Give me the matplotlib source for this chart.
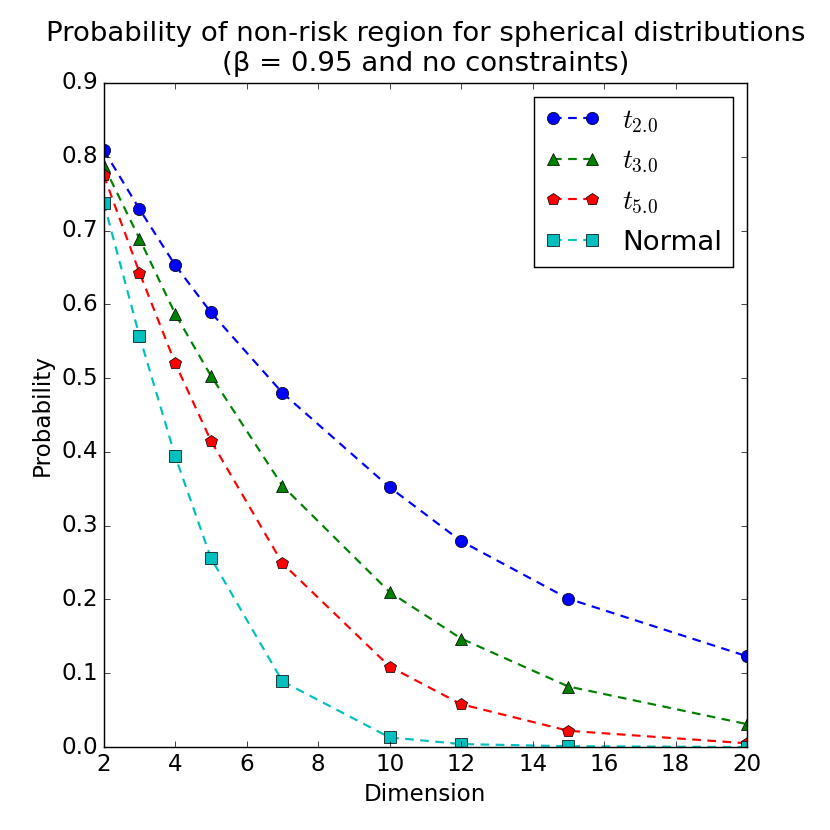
import numpy as np
import matplotlib
matplotlib.use("Agg")
import matplotlib.pyplot as plt

plt.style.use("classic")
plt.rcParams["font.size"] = 16

# Data
dims = [2, 3, 4, 5, 7, 10, 12, 15, 20]
prob_t2 = [0.809, 0.729, 0.653, 0.589, 0.480, 0.352, 0.279, 0.201, 0.123]
prob_t3 = [0.788, 0.689, 0.587, 0.503, 0.354, 0.210, 0.147, 0.082, 0.031]
prob_t5 = [0.775, 0.643, 0.520, 0.415, 0.249, 0.109, 0.058, 0.022, 0.005]
prob_normal = [0.738, 0.557, 0.394, 0.256, 0.089, 0.013, 0.004, 0.001, 0.000]

series = [
    (prob_t2, "bo--", r"$t_{2.0}$"),
    (prob_t3, "g^--", r"$t_{3.0}$"),
    (prob_t5, "rp--", r"$t_{5.0}$"),
    (prob_normal, "cs--", "Normal"),
]

fig = plt.figure(figsize=(8, 8), dpi=103.75, facecolor="white")
ax = fig.add_subplot(111)

for values, fmt, label in series:
    ax.plot(dims, values, fmt, label=label, markersize=8.5, linewidth=1.5,
            dashes=(6, 4.5))

ax.set_xlim(2, 20)
ax.set_ylim(0, 0.9)
ax.set_xlabel("Dimension")
ax.set_ylabel("Probability")
ax.set_title("Probability of non-risk region for spherical distributions\n"
             "(\u03b2 = 0.95 and no constraints)", pad=8)
ax.legend(loc="upper right", numpoints=2)

fig.savefig("out.png", dpi=103.75, facecolor="white")
